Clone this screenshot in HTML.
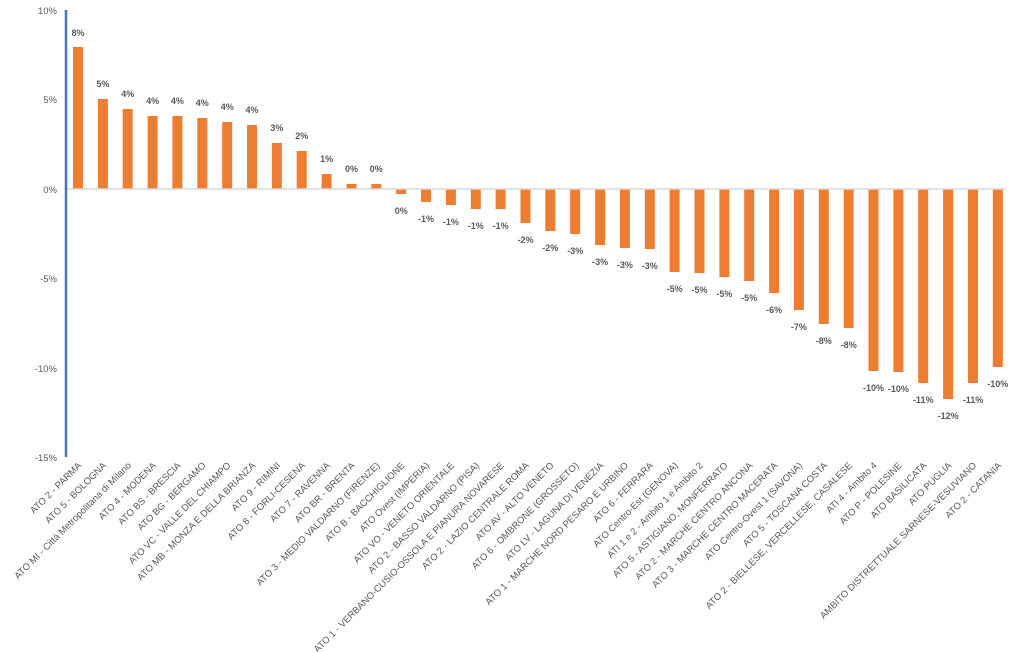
<!DOCTYPE html>
<html><head><meta charset="utf-8"><style>
html,body{margin:0;padding:0;background:#fff;width:1024px;height:652px;overflow:hidden}
svg{font-family:"Liberation Sans",sans-serif}
.v{font-size:9px;fill:#595959;font-weight:bold;text-anchor:middle}
.y{font-size:9.5px;fill:#595959;text-anchor:end}
.l{font-size:9.5px;fill:#595959;text-anchor:end}
</style></head><body>
<svg width="1024" height="652" viewBox="0 0 1024 652">
<text class="y" x="57" y="14">10%</text>
<text class="y" x="57" y="103">5%</text>
<text class="y" x="57" y="193">0%</text>
<text class="y" x="57" y="282">-5%</text>
<text class="y" x="57" y="372">-10%</text>
<text class="y" x="57" y="461">-15%</text>
<g fill="#ed7d31">
<rect x="73" y="47" width="10" height="142"/>
<rect x="97.9" y="99" width="10" height="90"/>
<rect x="122.7" y="109" width="10" height="80"/>
<rect x="147.6" y="116" width="10" height="73"/>
<rect x="172.4" y="116" width="10" height="73"/>
<rect x="197.3" y="118" width="10" height="71"/>
<rect x="222.2" y="122" width="10" height="67"/>
<rect x="247" y="125" width="10" height="64"/>
<rect x="271.9" y="143" width="10" height="46"/>
<rect x="296.7" y="151" width="10" height="38"/>
<rect x="321.6" y="174" width="10" height="15"/>
<rect x="346.5" y="184" width="10" height="5"/>
<rect x="371.3" y="184" width="10" height="5"/>
<rect x="396.2" y="189" width="10" height="5"/>
<rect x="421" y="189" width="10" height="13"/>
<rect x="445.9" y="189" width="10" height="16"/>
<rect x="470.8" y="189" width="10" height="20"/>
<rect x="495.6" y="189" width="10" height="20"/>
<rect x="520.5" y="189" width="10" height="34"/>
<rect x="545.3" y="189" width="10" height="42"/>
<rect x="570.2" y="189" width="10" height="45"/>
<rect x="595.1" y="189" width="10" height="56"/>
<rect x="619.9" y="189" width="10" height="59"/>
<rect x="644.8" y="189" width="10" height="60"/>
<rect x="669.6" y="189" width="10" height="83"/>
<rect x="694.5" y="189" width="10" height="84"/>
<rect x="719.4" y="189" width="10" height="88"/>
<rect x="744.2" y="189" width="10" height="92"/>
<rect x="769.1" y="189" width="10" height="104"/>
<rect x="793.9" y="189" width="10" height="121"/>
<rect x="818.8" y="189" width="10" height="135"/>
<rect x="843.7" y="189" width="10" height="139"/>
<rect x="868.5" y="189" width="10" height="182"/>
<rect x="893.4" y="189" width="10" height="183"/>
<rect x="918.2" y="189" width="10" height="194"/>
<rect x="943.1" y="189" width="10" height="210"/>
<rect x="968" y="189" width="10" height="194"/>
<rect x="992.8" y="189" width="10" height="178"/>
</g>
<line x1="66" y1="189" x2="1006" y2="189" stroke="#d9d9d9" stroke-width="1.5"/>
<line x1="66" y1="10" x2="66" y2="457" stroke="#4472c4" stroke-width="2.5"/>
<g class="v">
<text x="78" y="36">8%</text>
<text x="102.9" y="87">5%</text>
<text x="127.7" y="97">4%</text>
<text x="152.6" y="104">4%</text>
<text x="177.4" y="104">4%</text>
<text x="202.3" y="106">4%</text>
<text x="227.2" y="110">4%</text>
<text x="252" y="113">4%</text>
<text x="276.9" y="131">3%</text>
<text x="301.7" y="139">2%</text>
<text x="326.6" y="162">1%</text>
<text x="351.5" y="172">0%</text>
<text x="376.3" y="172">0%</text>
<text x="401.2" y="214">0%</text>
<text x="426" y="222">-1%</text>
<text x="450.9" y="225">-1%</text>
<text x="475.8" y="229">-1%</text>
<text x="500.6" y="229">-1%</text>
<text x="525.5" y="243">-2%</text>
<text x="550.3" y="251">-2%</text>
<text x="575.2" y="254">-3%</text>
<text x="600.1" y="265">-3%</text>
<text x="624.9" y="268">-3%</text>
<text x="649.8" y="269">-3%</text>
<text x="674.6" y="292">-5%</text>
<text x="699.5" y="293">-5%</text>
<text x="724.4" y="297">-5%</text>
<text x="749.2" y="301">-5%</text>
<text x="774.1" y="313">-6%</text>
<text x="798.9" y="330">-7%</text>
<text x="823.8" y="344">-8%</text>
<text x="848.7" y="348">-8%</text>
<text x="873.5" y="391">-10%</text>
<text x="898.4" y="392">-10%</text>
<text x="923.2" y="403">-11%</text>
<text x="948.1" y="419">-12%</text>
<text x="973" y="403">-11%</text>
<text x="997.8" y="387">-10%</text>
</g>
<g class="l">
<text transform="translate(82,466) rotate(-45)">ATO 2 - PARMA</text>
<text transform="translate(106.9,466) rotate(-45)">ATO 5 - BOLOGNA</text>
<text transform="translate(131.7,466) rotate(-45)">ATO MI - Città Metropolitana di Milano</text>
<text transform="translate(156.6,466) rotate(-45)">ATO 4 - MODENA</text>
<text transform="translate(181.4,466) rotate(-45)">ATO BS - BRESCIA</text>
<text transform="translate(206.3,466) rotate(-45)">ATO BG - BERGAMO</text>
<text transform="translate(231.2,466) rotate(-45)">ATO VC - VALLE DEL CHIAMPO</text>
<text transform="translate(256,466) rotate(-45)">ATO MB - MONZA E DELLA BRIANZA</text>
<text transform="translate(280.9,466) rotate(-45)">ATO 9 - RIMINI</text>
<text transform="translate(305.7,466) rotate(-45)">ATO 8 - FORLI-CESENA</text>
<text transform="translate(330.6,466) rotate(-45)">ATO 7 - RAVENNA</text>
<text transform="translate(355.5,466) rotate(-45)">ATO BR - BRENTA</text>
<text transform="translate(380.3,466) rotate(-45)">ATO 3 - MEDIO VALDARNO (FIRENZE)</text>
<text transform="translate(405.2,466) rotate(-45)">ATO B - BACCHIGLIONE</text>
<text transform="translate(430,466) rotate(-45)">ATO Ovest (IMPERIA)</text>
<text transform="translate(454.9,466) rotate(-45)">ATO VO - VENETO ORIENTALE</text>
<text transform="translate(479.8,466) rotate(-45)">ATO 2 - BASSO VALDARNO (PISA)</text>
<text transform="translate(504.6,466) rotate(-45)">ATO 1 - VERBANO-CUSIO-OSSOLA E PIANURA NOVARESE</text>
<text transform="translate(529.5,466) rotate(-45)">ATO 2 - LAZIO CENTRALE ROMA</text>
<text transform="translate(554.3,466) rotate(-45)">ATO AV - ALTO VENETO</text>
<text transform="translate(579.2,466) rotate(-45)">ATO 6 - OMBRONE (GROSSETO)</text>
<text transform="translate(604.1,466) rotate(-45)">ATO LV - LAGUNA DI VENEZIA</text>
<text transform="translate(628.9,466) rotate(-45)">ATO 1 - MARCHE NORD PESARO E URBINO</text>
<text transform="translate(653.8,466) rotate(-45)">ATO 6 - FERRARA</text>
<text transform="translate(678.6,466) rotate(-45)">ATO Centro-Est (GENOVA)</text>
<text transform="translate(703.5,466) rotate(-45)">ATI 1 e 2 - Ambito 1 e Ambito 2</text>
<text transform="translate(728.4,466) rotate(-45)">ATO 5 - ASTIGIANO, MONFERRATO</text>
<text transform="translate(753.2,466) rotate(-45)">ATO 2 - MARCHE CENTRO ANCONA</text>
<text transform="translate(778.1,466) rotate(-45)">ATO 3 - MARCHE CENTRO MACERATA</text>
<text transform="translate(802.9,466) rotate(-45)">ATO Centro-Ovest 1 (SAVONA)</text>
<text transform="translate(827.8,466) rotate(-45)">ATO 5 - TOSCANA COSTA</text>
<text transform="translate(852.7,466) rotate(-45)">ATO 2 - BIELLESE, VERCELLESE, CASALESE</text>
<text transform="translate(877.5,466) rotate(-45)">ATI 4 - Ambito 4</text>
<text transform="translate(902.4,466) rotate(-45)">ATO P - POLESINE</text>
<text transform="translate(927.2,466) rotate(-45)">ATO BASILICATA</text>
<text transform="translate(952.1,466) rotate(-45)">ATO PUGLIA</text>
<text transform="translate(977,466) rotate(-45)">AMBITO DISTRETTUALE SARNESE-VESUVIANO</text>
<text transform="translate(1001.8,466) rotate(-45)">ATO 2 - CATANIA</text>
</g>
</svg>
</body></html>
